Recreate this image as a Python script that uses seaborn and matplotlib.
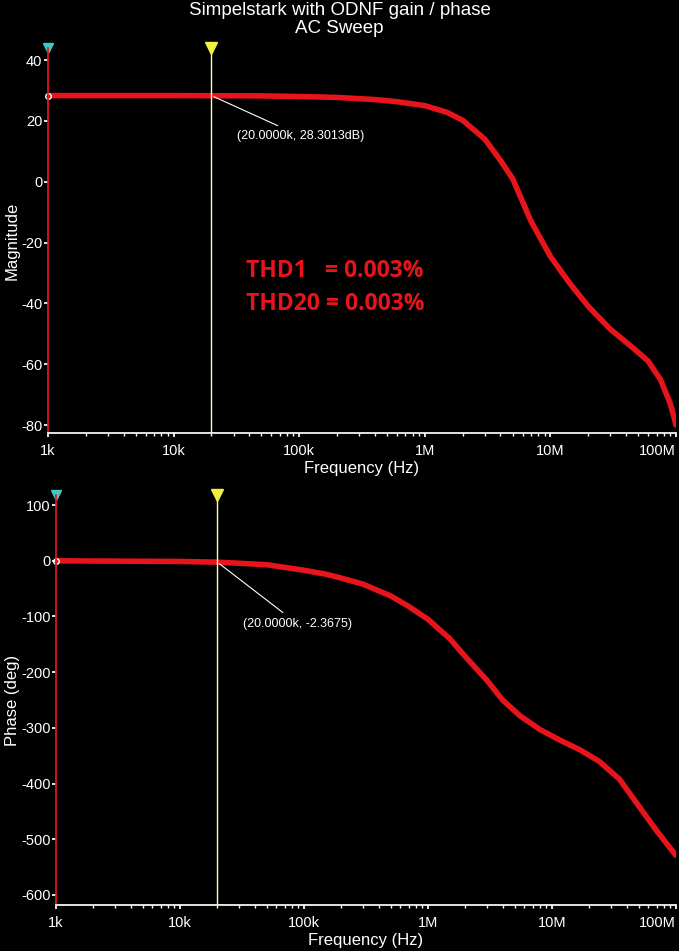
import matplotlib
matplotlib.use("Agg")
import matplotlib.pyplot as plt
import seaborn as sns
import pandas as pd
import numpy as np
from matplotlib.ticker import FixedLocator, LogLocator, NullFormatter

sns.set_theme(style="dark")
plt.rcParams['font.family'] = ['Liberation Sans', 'DejaVu Sans']
plt.rcParams['axes.unicode_minus'] = False

freq_mag = [1e3, 1e4, 5e4, 1e5, 2e5, 4e5, 6e5, 1e6, 1.5e6, 2e6, 3e6, 4e6, 5e6, 7e6, 1e7, 1.4e7, 2e7, 3e7, 4.5e7, 6e7, 7.5e7, 9e7, 1e8]
mag_db = [28.3, 28.3, 28.2, 28.0, 27.7, 27.0, 26.3, 25.0, 22.8, 20.2, 14.0, 7.0, 1.0, -13.0, -24.6, -33.0, -41.0, -48.5, -54.5, -59.0, -65.0, -73.0, -80.0]
freq_ph = [1e3, 1e4, 2e4, 5e4, 1e5, 1.5e5, 2e5, 3e5, 5e5, 7e5, 1e6, 1.5e6, 2e6, 3e6, 4e6, 5.5e6, 8e6, 1.16e7, 1.7e7, 2.4e7, 3.5e7, 5e7, 7e7, 1e8]
phase_deg = [0, -1.2, -2.4, -7, -17, -24, -31, -42, -63, -82, -105, -140, -172, -215, -250, -278, -303, -322, -340, -360, -392, -440, -485, -529]
xticks = [1e3, 1e4, 1e5, 1e6, 1e7, 1e8]
xlabels = ["1k", "10k", "100k", "1M", "10M", "100M"]
red = "#e8141c"

fig = plt.figure(figsize=(6.79, 9.51), dpi=100, facecolor="black")
ax1 = fig.add_axes([0.0707, 0.5447, 0.925, 0.405])
ax2 = fig.add_axes([0.0825, 0.0484, 0.913, 0.431])

def style(ax, ylim, yt, ylabel):
    ax.set_facecolor("black")
    ax.set_xscale("log")
    ax.set_xlim(1e3, 1e8)
    ax.set_ylim(*ylim)
    ax.grid(False)
    for s in ["top", "right"]:
        ax.spines[s].set_visible(False)
    ax.spines["left"].set_color(red)
    ax.spines["bottom"].set_color("white")
    ax.xaxis.set_major_locator(FixedLocator(xticks))
    ax.set_xticklabels(xlabels)
    ax.xaxis.set_minor_locator(LogLocator(base=10, subs=np.arange(2, 10)))
    ax.xaxis.set_minor_formatter(NullFormatter())
    ax.set_yticks(yt)
    ax.tick_params(colors="white", labelsize=10.5, length=3, pad=1, direction="out", bottom=True, left=True)
    ax.tick_params(axis="x", pad=5)
    ax.tick_params(which="minor", colors="white", length=2, bottom=True)
    ax.set_xlabel("Frequency (Hz)", color="white", fontsize=12, labelpad=2)
    ax.set_ylabel(ylabel, color="white", fontsize=12, labelpad=1)
    ax.get_xticklabels()[-1].set_horizontalalignment("right")

df1 = pd.DataFrame({"f": freq_mag, "v": mag_db})
df2 = pd.DataFrame({"f": freq_ph, "v": phase_deg})
sns.lineplot(data=df1, x="f", y="v", ax=ax1, color=red, lw=4)
sns.lineplot(data=df2, x="f", y="v", ax=ax2, color=red, lw=4)
style(ax1, (-82.6, 44), [-80, -60, -40, -20, 0, 20, 40], "Magnitude")
style(ax2, (-618, 118), [-600, -500, -400, -300, -200, -100, 0, 100], "Phase (deg)")

for ax, y0, ytxt, lab in [(ax1, 28.3013, 14, "(20.0000k, 28.3013dB)"), (ax2, -2.3675, -118, "(20.0000k, -2.3675)")]:
    ax.axvline(2e4, color="#ffffb0", lw=1)
    ax.plot([1e3], [y0 if ax is ax1 else 0], marker="o", mfc="none", mec="white", ms=4, clip_on=False)
    ax.annotate(lab, xy=(2e4, y0), xytext=(3.2e4, ytxt), color="white", fontsize=9,
                arrowprops=dict(arrowstyle="-", color="white", lw=0.8))
    top = ax.get_ylim()[1]
    ax.plot([1e3], [top], marker="v", color="#40c8c8", ms=7, clip_on=False)
    ax.plot([2e4], [top], marker="v", color="#f0f040", ms=8, clip_on=False)

ax1.text(0.315, 0.405, "THD1   = 0.003%", transform=ax1.transAxes, color=red, fontsize=16.5, fontweight="bold", family="Open Sans")
ax1.text(0.315, 0.32, "THD20 = 0.003%", transform=ax1.transAxes, color=red, fontsize=16.5, fontweight="bold", family="Open Sans")

fig.text(0.5, 0.998, "Simpelstark with ODNF gain / phase\nAC Sweep", color="white", fontsize=13.5, ha="center", va="top", linespacing=1.1)
fig.savefig("out.png", facecolor="black")
